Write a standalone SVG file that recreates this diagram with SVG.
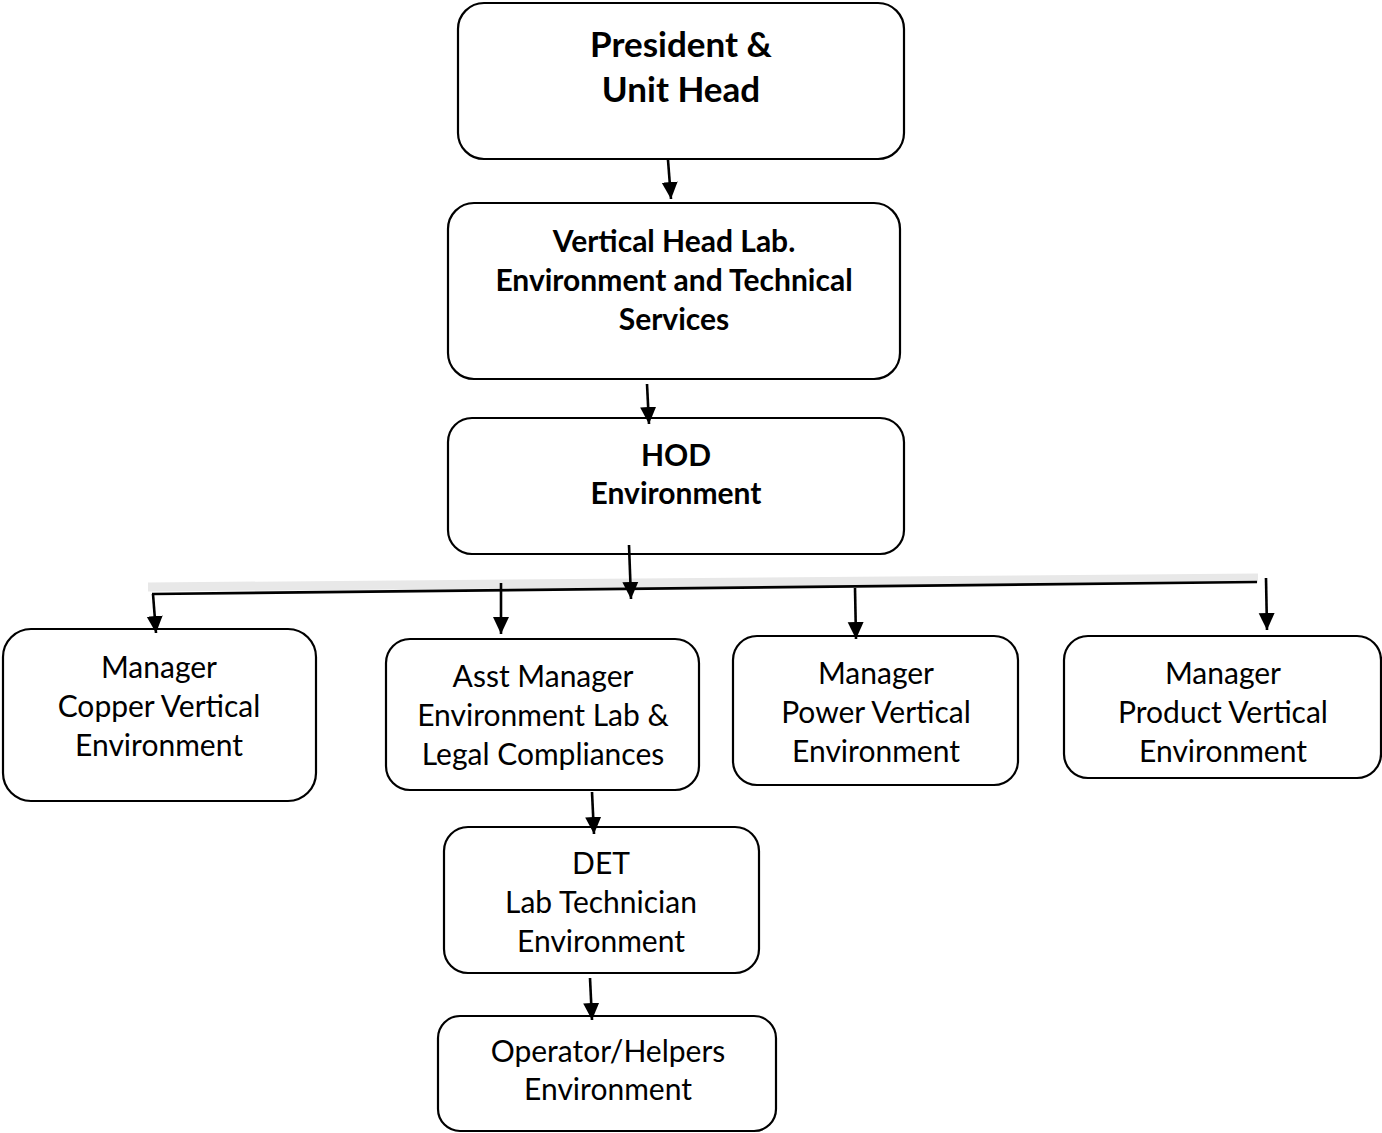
<svg xmlns="http://www.w3.org/2000/svg" width="1382" height="1133" viewBox="0 0 1382 1133">
<defs>
<marker id="ah" markerUnits="userSpaceOnUse" markerWidth="18" markerHeight="18" viewBox="0 0 18 18" refX="17" refY="9" orient="auto">
<path d="M0,1 L17,9 L0,17 Z" fill="#000"/>
</marker>
<style>
.box{fill:#fff;stroke:#000;stroke-width:2.2}
.t{font-family:Lato,"Liberation Sans",sans-serif;font-size:30px;fill:#000;text-anchor:middle}
.b{font-weight:bold}
.c{stroke:#000;stroke-width:2.6;fill:none}
.ca{stroke:#000;stroke-width:2.6;fill:none;marker-end:url(#ah)}
</style>
</defs>
<rect width="1382" height="1133" fill="#fff"/>
<g id="n1"><rect class="box" x="458" y="3" width="446" height="156" rx="26"/>
<text class="t b" style="font-size:35px" x="681" y="57">President &amp;</text>
<text class="t b" style="font-size:35px" x="681" y="102">Unit Head</text></g>
<g id="n2"><rect class="box" x="448" y="203" width="452" height="176" rx="26"/>
<text class="t b" x="674" y="252">Vertical Head Lab.</text>
<text class="t b" x="674" y="291">Environment and Technical</text>
<text class="t b" x="674" y="330">Services</text></g>
<g id="n3"><rect class="box" x="448" y="418" width="456" height="136" rx="24"/>
<text class="t b" x="676" y="466">HOD</text>
<text class="t b" x="676" y="504">Environment</text></g>
<g id="n4"><rect class="box" x="3" y="629" width="313" height="172" rx="28"/>
<text class="t" x="159" y="678">Manager</text>
<text class="t" x="159" y="717">Copper Vertical</text>
<text class="t" x="159" y="756">Environment</text></g>
<g id="n5"><rect class="box" x="386" y="639" width="313" height="151" rx="24"/>
<text class="t" x="543" y="687">Asst Manager</text>
<text class="t" x="543" y="726">Environment Lab &amp;</text>
<text class="t" x="543" y="765">Legal Compliances</text></g>
<g id="n6"><rect class="box" x="733" y="636" width="285" height="149" rx="24"/>
<text class="t" x="876" y="684">Manager</text>
<text class="t" x="876" y="723">Power Vertical</text>
<text class="t" x="876" y="762">Environment</text></g>
<g id="n7"><rect class="box" x="1064" y="636" width="317" height="142" rx="24"/>
<text class="t" x="1223" y="684">Manager</text>
<text class="t" x="1223" y="723">Product Vertical</text>
<text class="t" x="1223" y="762">Environment</text></g>
<g id="n8"><rect class="box" x="444" y="827" width="315" height="146" rx="24"/>
<text class="t" x="601" y="874">DET</text>
<text class="t" x="601" y="913">Lab Technician</text>
<text class="t" x="601" y="952">Environment</text></g>
<g id="n9"><rect class="box" x="438" y="1016" width="338" height="115" rx="22"/>
<text class="t" x="608" y="1062">Operator/Helpers</text>
<text class="t" x="608" y="1100">Environment</text></g>
<g id="connectors">
<line x1="148" y1="587" x2="1258" y2="578" stroke="#e8e8e8" stroke-width="9"/>
<line class="c" x1="152" y1="594" x2="1257" y2="582"/>
<line class="ca" x1="668" y1="160" x2="671" y2="199"/>
<line class="ca" x1="647" y1="384" x2="649" y2="424"/>
<line class="ca" x1="629" y1="545" x2="631" y2="599"/>
<line class="ca" x1="153" y1="594" x2="156" y2="633"/>
<line class="ca" x1="501" y1="583" x2="501" y2="634"/>
<line class="ca" x1="855" y1="588" x2="856" y2="639"/>
<line class="ca" x1="1266" y1="578" x2="1267" y2="630"/>
<line class="ca" x1="592" y1="792" x2="594" y2="834"/>
<line class="ca" x1="590" y1="978" x2="592" y2="1020"/>
</g>
</svg>
